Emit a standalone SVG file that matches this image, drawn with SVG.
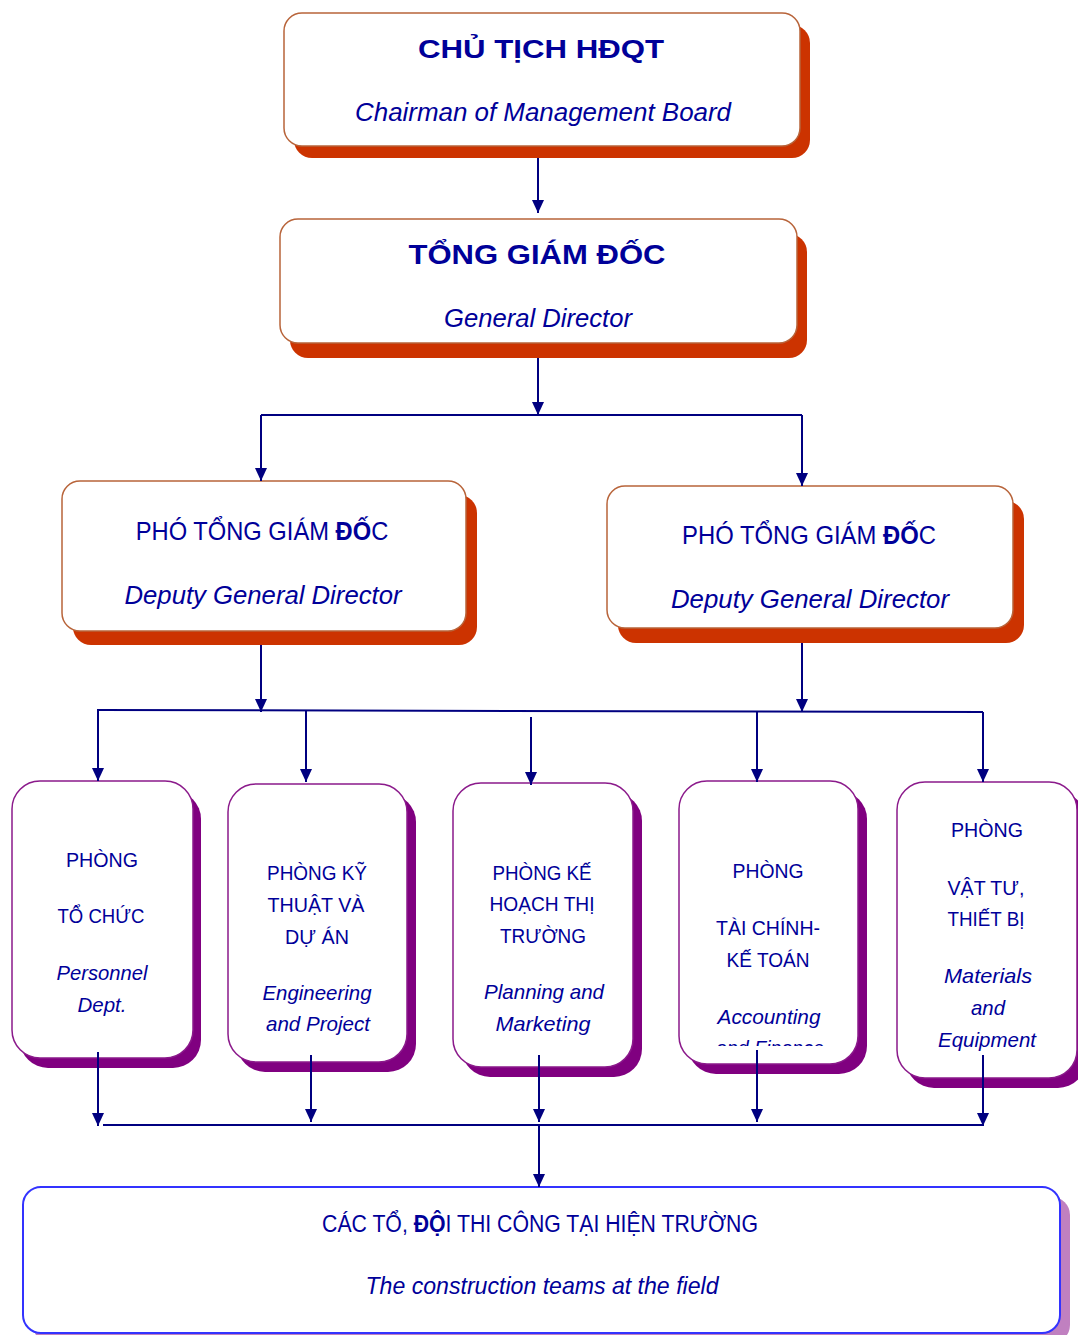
<svg xmlns="http://www.w3.org/2000/svg" width="1078" height="1335" viewBox="0 0 1078 1335">
<style>
.t{font-family:"Liberation Sans",Arial,sans-serif;fill:#000099;text-anchor:middle}
.b{font-weight:bold}
.i{font-style:italic}
.rs{fill:#CC3300}
.rb{fill:#FFFFFF;stroke:#B8643A;stroke-width:1.5}
.ps{fill:#800080}
.pb{fill:#FFFFFF;stroke:#8B1A8B;stroke-width:1.5}
.c{stroke:#000080;stroke-width:2;fill:none}
.a{marker-end:url(#ah)}
</style>
<defs>
<marker id="ah" viewBox="0 0 12 13" refX="13" refY="6.5" markerWidth="12" markerHeight="13" markerUnits="userSpaceOnUse" orient="auto">
<path d="M0,0.5 L13,6.5 L0,12.5 z" fill="#000080"/>
</marker>
<clipPath id="clip4"><rect x="679" y="781" width="180" height="265"/></clipPath>
</defs>

<g id="chairman">
<rect class="rs" x="294" y="25" width="516" height="133" rx="18"/>
<rect class="rb" x="284" y="13" width="516" height="133" rx="18"/>
<text class="t b" x="541" y="58" font-size="26" textLength="246" lengthAdjust="spacingAndGlyphs">CHỦ TỊCH HĐQT</text>
<text class="t i" x="543" y="121" font-size="26" textLength="376" lengthAdjust="spacingAndGlyphs">Chairman of Management Board</text>
</g>

<g id="general-director">
<rect class="rs" x="290" y="234" width="517" height="124" rx="18"/>
<rect class="rb" x="280" y="219" width="517" height="124" rx="18"/>
<text class="t b" x="537" y="264" font-size="28" textLength="257" lengthAdjust="spacingAndGlyphs">TỔNG GIÁM ĐỐC</text>
<text class="t i" x="538" y="327" font-size="26" textLength="188" lengthAdjust="spacingAndGlyphs">General Director</text>
</g>

<g id="deputy-left">
<rect class="rs" x="73" y="495" width="404" height="150" rx="18"/>
<rect class="rb" x="62" y="481" width="404" height="150" rx="18"/>
<text class="t" transform="translate(262,540) scale(0.913,1)" x="0" y="0" font-size="26">PHÓ TỔNG GIÁM <tspan class="b">ĐỐ</tspan>C</text>
<text class="t i" x="263" y="604" font-size="26" textLength="277" lengthAdjust="spacingAndGlyphs">Deputy General Director</text>
</g>

<g id="deputy-right">
<rect class="rs" x="618" y="501" width="406" height="142" rx="18"/>
<rect class="rb" x="607" y="486" width="406" height="142" rx="18"/>
<text class="t" transform="translate(809,544) scale(0.917,1)" x="0" y="0" font-size="26">PHÓ TỔNG GIÁM <tspan class="b">ĐỐ</tspan>C</text>
<text class="t i" x="810" y="608" font-size="26" textLength="278" lengthAdjust="spacingAndGlyphs">Deputy General Director</text>
</g>

<g id="dept-personnel">
<rect class="ps" x="20" y="791" width="181" height="277" rx="28"/>
<rect class="pb" x="12" y="781" width="181" height="277" rx="28"/>
<text class="t" x="102" y="867" font-size="21" textLength="72" lengthAdjust="spacingAndGlyphs">PHÒNG</text>
<text class="t" x="101" y="923" font-size="21" textLength="87" lengthAdjust="spacingAndGlyphs">TỔ CHỨC</text>
<text class="t i" x="102" y="980" font-size="21" textLength="91" lengthAdjust="spacingAndGlyphs">Personnel</text>
<text class="t i" x="102" y="1012" font-size="21" textLength="49" lengthAdjust="spacingAndGlyphs">Dept.</text>
</g>

<g id="dept-engineering">
<rect class="ps" x="237" y="794" width="179" height="278" rx="28"/>
<rect class="pb" x="228" y="784" width="179" height="278" rx="28"/>
<text class="t" x="317" y="880" font-size="21" textLength="100" lengthAdjust="spacingAndGlyphs">PHÒNG KỸ</text>
<text class="t" x="316" y="912" font-size="21" textLength="97" lengthAdjust="spacingAndGlyphs">THUẬT VÀ</text>
<text class="t" x="317" y="944" font-size="21" textLength="64" lengthAdjust="spacingAndGlyphs">DỰ ÁN</text>
<text class="t i" x="317" y="1000" font-size="21" textLength="109" lengthAdjust="spacingAndGlyphs">Engineering</text>
<text class="t i" x="318" y="1031" font-size="21" textLength="104" lengthAdjust="spacingAndGlyphs">and Project</text>
</g>

<g id="dept-planning">
<rect class="ps" x="462" y="793" width="180" height="284" rx="28"/>
<rect class="pb" x="453" y="783" width="180" height="284" rx="28"/>
<text class="t" x="542" y="880" font-size="21" textLength="99" lengthAdjust="spacingAndGlyphs">PHÒNG KẾ</text>
<text class="t" x="542" y="911" font-size="21" textLength="105" lengthAdjust="spacingAndGlyphs">HOẠCH THỊ</text>
<text class="t" x="543" y="943" font-size="21" textLength="86" lengthAdjust="spacingAndGlyphs">TRƯỜNG</text>
<text class="t i" x="544" y="999" font-size="21" textLength="120" lengthAdjust="spacingAndGlyphs">Planning and</text>
<text class="t i" x="543" y="1031" font-size="21" textLength="95" lengthAdjust="spacingAndGlyphs">Marketing</text>
</g>

<g id="dept-accounting">
<rect class="ps" x="688" y="791" width="179" height="283" rx="28"/>
<rect class="pb" x="679" y="781" width="179" height="283" rx="28"/>
<text class="t" x="768" y="878" font-size="21" textLength="71" lengthAdjust="spacingAndGlyphs">PHÒNG</text>
<text class="t" x="768" y="935" font-size="21" textLength="104" lengthAdjust="spacingAndGlyphs">TÀI CHÍNH-</text>
<text class="t" x="768" y="967" font-size="21" textLength="83" lengthAdjust="spacingAndGlyphs">KẾ TOÁN</text>
<text class="t i" x="769" y="1024" font-size="21" textLength="103" lengthAdjust="spacingAndGlyphs">Accounting</text>
<g clip-path="url(#clip4)">
<text class="t i" x="770" y="1055" font-size="21" textLength="108" lengthAdjust="spacingAndGlyphs">and Finance</text>
</g>
</g>

<g id="dept-materials">
<rect class="ps" x="906" y="792" width="180" height="296" rx="28"/>
<rect class="pb" x="897" y="782" width="180" height="296" rx="28"/>
<text class="t" x="987" y="837" font-size="21" textLength="72" lengthAdjust="spacingAndGlyphs">PHÒNG</text>
<text class="t" x="986" y="895" font-size="21" textLength="77" lengthAdjust="spacingAndGlyphs">VẬT TƯ,</text>
<text class="t" x="986" y="926" font-size="21" textLength="77" lengthAdjust="spacingAndGlyphs">THIẾT BỊ</text>
<text class="t i" x="988" y="983" font-size="21" textLength="88" lengthAdjust="spacingAndGlyphs">Materials</text>
<text class="t i" x="988" y="1015" font-size="21" textLength="34" lengthAdjust="spacingAndGlyphs">and</text>
<text class="t i" x="987" y="1047" font-size="21" textLength="98" lengthAdjust="spacingAndGlyphs">Equipment</text>
</g>

<g id="field-teams">
<rect x="33" y="1197" width="1037" height="146" rx="18" fill="#C080C0"/>
<rect x="23" y="1187" width="1037" height="146" rx="18" fill="#FFFFFF" stroke="#3333FF" stroke-width="2"/>
<text class="t" transform="translate(540,1232) scale(0.885,1)" x="0" y="0" font-size="24">CÁC TỔ, <tspan class="b">ĐỘ</tspan>I THI CÔNG TẠI HIỆN TRƯỜNG</text>
<text class="t i" x="542" y="1294" font-size="24" textLength="353" lengthAdjust="spacingAndGlyphs">The construction teams at the field</text>
</g>

<g id="connectors">
<path class="c a" d="M538,158 V213"/>
<path class="c a" d="M538,358 V415"/>
<path class="c" d="M261,415 H802"/>
<path class="c a" d="M261,415 V481"/>
<path class="c a" d="M802,415 V486"/>
<path class="c a" d="M261,645 V712"/>
<path class="c a" d="M802,643 V712"/>
<path class="c" d="M97,710 L983,712"/>
<path class="c a" d="M98,710 V781"/>
<path class="c a" d="M306,711 V782"/>
<path class="c a" d="M531,717 V785"/>
<path class="c a" d="M757,711 V782"/>
<path class="c a" d="M983,712 V782"/>
<path class="c a" d="M98,1052 V1126"/>
<path class="c a" d="M311,1055 V1122"/>
<path class="c a" d="M539,1055 V1122"/>
<path class="c a" d="M757,1050 V1122"/>
<path class="c a" d="M983,1055 V1126"/>
<path class="c" d="M103,1125 H983"/>
<path class="c a" d="M539,1125 V1187"/>
</g>
</svg>
